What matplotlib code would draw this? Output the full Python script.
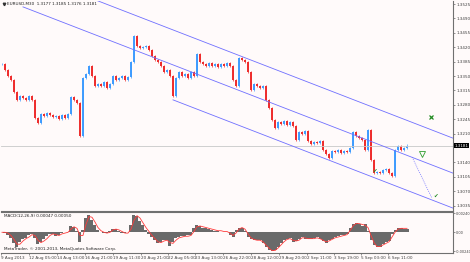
import numpy as np
import matplotlib.pyplot as plt
from matplotlib.transforms import blended_transform_factory

plt.rcParams['font.family'] = ['Liberation Sans Narrow', 'DejaVu Sans']

# EURUSD M30 closes, one sample every ~3 px of the screenshot
closes = [1.3379, 1.3365, 1.3350, 1.3340, 1.3311, 1.3292, 1.3301, 1.3297, 1.3292, 1.3301,
          1.3292, 1.3248, 1.3236, 1.3258, 1.3253, 1.3260, 1.3255, 1.3250, 1.3253, 1.3245,
          1.3255, 1.3248, 1.3258, 1.3299, 1.3292, 1.3284, 1.3204, 1.3345, 1.3355, 1.3374,
          1.3350, 1.3326, 1.3331, 1.3326, 1.3335, 1.3321, 1.3331, 1.3350, 1.3340, 1.3345,
          1.3350, 1.3340, 1.3348, 1.3384, 1.3447, 1.3423, 1.3418, 1.3420, 1.3423, 1.3413,
          1.3399, 1.3389, 1.3384, 1.3374, 1.3360, 1.3365, 1.3350, 1.3301, 1.3345, 1.3360,
          1.3350, 1.3355, 1.3345, 1.3360, 1.3350, 1.3403, 1.3384, 1.3379, 1.3374, 1.3382,
          1.3374, 1.3379, 1.3372, 1.3379, 1.3374, 1.3382, 1.3374, 1.3340, 1.3326, 1.3394,
          1.3389, 1.3384, 1.3360, 1.3316, 1.3331, 1.3326, 1.3321, 1.3326, 1.3292, 1.3272,
          1.3243, 1.3224, 1.3238, 1.3233, 1.3241, 1.3231, 1.3238, 1.3228, 1.3194, 1.3214,
          1.3209, 1.3216, 1.3192, 1.3185, 1.3190, 1.3187, 1.3192, 1.3170, 1.3160, 1.3151,
          1.3168, 1.3165, 1.3170, 1.3163, 1.3168, 1.3165, 1.3175, 1.3214, 1.3204, 1.3199,
          1.3194, 1.3170, 1.3219, 1.3146, 1.3114, 1.3117, 1.3114, 1.3122, 1.3124, 1.3114,
          1.3107, 1.3170, 1.3180, 1.3170, 1.3175, 1.3181]

# MACD histogram and signal, same sampling
macd = [0.0, -0.0001, -0.0003, -0.0007, -0.0013, -0.0018, -0.0012, -0.0008, -0.0007, -0.0003,
        -0.0002, -0.0007, -0.0015, -0.0012, -0.0009, -0.0005, -0.0002, -0.0002, -0.0005, -0.0003,
        -0.0001, 0.0, 0.0, 0.0008, 0.0007, 0.0002, -0.0012, 0.0003, 0.0018, 0.0022,
        0.0016, 0.0009, 0.0003, 0.0, -0.0001, -0.0001, 0.0002, 0.0004, 0.0004, 0.0002,
        -0.0001, -0.0001, 0.0, 0.0009, 0.0022, 0.0021, 0.0014, 0.0009, 0.0003, -0.0002,
        -0.0006, -0.0010, -0.0014, -0.0012, -0.0010, -0.0010, -0.0017, -0.0012, -0.0007, -0.0006,
        -0.0005, -0.0005, -0.0004, -0.0004, 0.0006, 0.0009, 0.0008, 0.0006, 0.0005, 0.0004,
        0.0003, 0.0002, 0.0002, 0.0001, 0.0001, 0.0001, -0.0003, -0.0006, 0.0003, 0.0006,
        0.0006, 0.0002, -0.0006, -0.0008, -0.0010, -0.0010, -0.0010, -0.0014, -0.0018, -0.0022,
        -0.0024, -0.0022, -0.0018, -0.0014, -0.0010, -0.0008, -0.0007, -0.0012, -0.0011, -0.0008,
        -0.0006, -0.0008, -0.0009, -0.0008, -0.0007, -0.0006, -0.0009, -0.0011, -0.0013, -0.0010,
        -0.0008, -0.0006, -0.0005, -0.0004, -0.0003, -0.0002, 0.0006, 0.0010, 0.0012, 0.0011,
        0.0008, 0.0010, 0.0002, -0.0010, -0.0016, -0.0019, -0.0018, -0.0015, -0.0012, -0.0011,
        -0.0002, 0.0003, 0.0005, 0.0006, 0.00047, 0.00047]
signal = [0.0, 0.0, -0.0001, -0.0004, -0.0009, -0.0015, -0.0015, -0.0011, -0.0008, -0.0006,
          -0.0003, -0.0004, -0.0010, -0.0013, -0.0011, -0.0008, -0.0004, -0.0002, -0.0003, -0.0004,
          -0.0002, -0.0001, 0.0, 0.0004, 0.0007, 0.0005, -0.0004, -0.0004, 0.0010, 0.0020,
          0.0019, 0.0013, 0.0006, 0.0002, 0.0, -0.0001, 0.0, 0.0003, 0.0004, 0.0003,
          0.0001, -0.0001, -0.0001, 0.0004, 0.0015, 0.0021, 0.0018, 0.0012, 0.0006, 0.0001,
          -0.0004, -0.0008, -0.0012, -0.0013, -0.0011, -0.0010, -0.0013, -0.0014, -0.0010, -0.0007,
          -0.0006, -0.0005, -0.0005, -0.0004, 0.0001, 0.0007, 0.0008, 0.0007, 0.0006, 0.0005,
          0.0004, 0.0003, 0.0002, 0.0002, 0.0001, 0.0001, -0.0001, -0.0004, -0.0001, 0.0004,
          0.0006, 0.0004, -0.0002, -0.0007, -0.0009, -0.0010, -0.0010, -0.0012, -0.0016, -0.0020,
          -0.0023, -0.0023, -0.0020, -0.0016, -0.0012, -0.0009, -0.0008, -0.0010, -0.0011, -0.0010,
          -0.0007, -0.0007, -0.0008, -0.0008, -0.0008, -0.0007, -0.0008, -0.0010, -0.0012, -0.0011,
          -0.0009, -0.0007, -0.0006, -0.0005, -0.0004, -0.0003, 0.0002, 0.0008, 0.0011, 0.0011,
          0.0010, 0.0009, 0.0006, -0.0004, -0.0013, -0.0018, -0.0018, -0.0016, -0.0014, -0.0012,
          -0.0006, 0.0000, 0.0004, 0.0005, 0.0005, 0.0005]

price_ticks = [1.3525, 1.3490, 1.3455, 1.3420, 1.3385, 1.3350, 1.3315, 1.3280,
               1.3245, 1.3210, 1.3140, 1.3105, 1.3070, 1.3035]
last_price = 1.3181
macd_ticks = [0.0024, 0.0, -0.0024]
macd_labels = ["0.00240", "0.00", "-0.00240"]

time_labels = ["9 Aug 2013", "12 Aug 05:00", "14 Aug 13:00", "16 Aug 21:00", "19 Aug 11:30",
               "20 Aug 21:00", "22 Aug 05:00", "23 Aug 13:00", "26 Aug 22:00", "28 Aug 12:00",
               "29 Aug 20:00", "2 Sep 11:00", "3 Sep 19:00", "5 Sep 03:00", "6 Sep 11:00"]
time_pos = [-0.3, 9, 18.3, 27.7, 37, 46.3, 55.3, 64.3, 73.7, 83, 92.3, 101.7, 110.7, 119.7, 128.7]

# channel: middle line anchors, half width
chan_a = (7, 1.3518)
chan_b = (150.3, 1.3114)
chan_half = 0.0085
chan_low_start = 57

# forecast marks
proj_line = ([136.7, 143.3], [1.3153, 1.3053])
arrow_pt = (140, 1.3160)
cross_pt = (143, 1.3250)
checks = [(144.7, 1.3057), (124.3, 1.3119)]

bg = '#fffafa'
up_c = '#3d9bff'
dn_c = '#ee2b2b'
ch_c = '#6f6fff'
fs = 3.0

fig = plt.figure(figsize=(4.7, 2.62), dpi=100, facecolor=bg)
ax = fig.add_axes([1/470, 51/262, 452/470, 210/262], facecolor=bg)
mx = fig.add_axes([1/470, 9/262, 452/470, 41/262], facecolor=bg)

x = np.arange(len(closes))
c = np.array(closes)
o = np.r_[c[0], c[:-1]]
cols = [up_c if cc >= oo else dn_c for oo, cc in zip(o, c)]
hi = np.maximum(o, c) + 0.0003
lo = np.minimum(o, c) - 0.0003
ax.vlines(x, lo, hi, colors=cols, lw=0.5)
ax.vlines(x, o, c, colors=cols, lw=1.4)
ax.axhline(last_price, color='#c8c8c8', lw=0.6)

# channel lines
slope = (chan_b[1] - chan_a[1]) / (chan_b[0] - chan_a[0])
xe = 152
for off, x0 in [(0, chan_a[0]), (chan_half, -60), (-chan_half, chan_low_start)]:
    y0 = chan_a[1] + slope * (x0 - chan_a[0]) + off
    y1 = chan_a[1] + slope * (xe - chan_a[0]) + off
    ax.plot([x0, xe], [y0, y1], color=ch_c, lw=0.6)

ax.plot(proj_line[0], proj_line[1], color=ch_c, lw=0.5, ls=(0, (1.5, 1.5)))
ax.plot(*arrow_pt, marker='v', ms=4, mfc='none', mec='#2e9e2e', mew=0.6)
ax.plot(*cross_pt, marker='x', ms=2.5, color='#228b22', mew=0.9)
for px, py in checks:
    ax.text(px, py, '\u2714', color='#228b22', fontsize=4, ha='center', va='center',
            family='DejaVu Sans')

xlim = (-0.33, 150.33)
ax.set_xlim(xlim)
ax.set_ylim(1.30219, 1.35323)
ax.yaxis.tick_right()
ax.set_yticks(price_ticks)
ax.set_yticklabels(['%.4f' % v for v in price_ticks])
ax.tick_params(axis='y', labelsize=fs, length=1.5, width=0.4, pad=1, colors='#404040')
ax.set_xticks([])
for s in ['top', 'left']:
    ax.spines[s].set_visible(False)
ax.spines['right'].set_color('#707070')
ax.spines['bottom'].set_color('#707070')
ax.spines['right'].set_linewidth(0.8)
ax.spines['bottom'].set_linewidth(0.8)

tr = blended_transform_factory(ax.transAxes, ax.transData)
ax.text(1.004, last_price, '%.4f' % last_price, transform=tr, fontsize=fs, color='white',
        va='center', ha='left', bbox=dict(boxstyle='square,pad=0.15', fc='black', ec='none'))

ax.plot(0.006, 0.985, marker='v', ms=1.8, color='#333333', transform=ax.transAxes, clip_on=False)
ax.text(0.014, 0.985, 'EURUSD,M30  1.3177 1.3185 1.3176 1.3181', transform=ax.transAxes,
        fontsize=fs, va='center', ha='left', color='#202020')

# MACD panel
m = np.array(macd)
mx.bar(x, m, width=1.0, color='#6a6a6a', lw=0)
mx.plot(x, signal, color='#ff3b3b', lw=0.6)
mx.set_xlim(xlim)
mx.set_ylim(-0.002614, 0.002564)
mx.yaxis.tick_right()
mx.set_yticks(macd_ticks)
mx.set_yticklabels(macd_labels)
mx.tick_params(axis='y', labelsize=2.5, length=1.2, width=0.4, pad=0.6, colors='#404040')
mx.set_xticks(time_pos)
mx.set_xticklabels(time_labels, ha='left')
mx.tick_params(axis='x', labelsize=fs, length=1.5, width=0.4, pad=1, colors='#404040')
mx.spines['left'].set_visible(False)
for s in ['top', 'right', 'bottom']:
    mx.spines[s].set_color('#707070')
    mx.spines[s].set_linewidth(0.8)
mx.text(0.006, 0.9, 'MACD(12,26,9) 0.00047 0.00050', transform=mx.transAxes,
        fontsize=fs, va='center', ha='left', color='#202020')
mx.text(0.006, 0.1, 'MetaTrader, \u00a9 2001-2013, MetaQuotes Software Corp.', transform=mx.transAxes,
        fontsize=fs, va='center', ha='left', color='#202020')

fig.savefig('out.png', dpi=100, facecolor=bg)
